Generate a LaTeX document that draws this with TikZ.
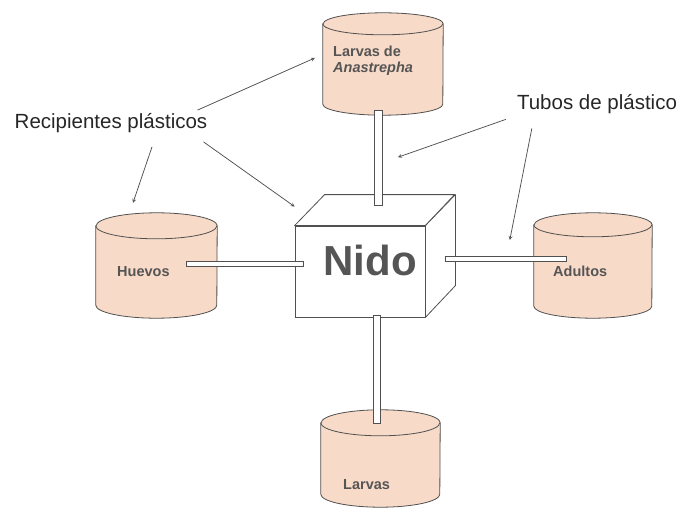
\documentclass[tikz,border=0pt]{standalone}
\usepackage{fontspec}
\setmainfont{Liberation Sans}
\usetikzlibrary{arrows}
\definecolor{cylFill}{HTML}{F8DAC8}
\definecolor{lineGray}{HTML}{505050}
\definecolor{tagGray}{HTML}{555555}

% outline of an upright container around node #1 (x radius #2, y radius #3)
\newcommand{\cylshape}[3]{%
  \filldraw [cylline] ([yshift=-#3]#1.north west) -- ([yshift=#3]#1.south west)
    arc [start angle=180, end angle=360, x radius=#2, y radius=#3]
    -- ([yshift=-#3]#1.north east)
    arc [start angle=0, end angle=180, x radius=#2, y radius=#3] -- cycle;
  \draw [cylline] ([yshift=-#3]#1.north west)
    arc [start angle=180, end angle=360, x radius=#2, y radius=#3];}

\begin{document}
\begin{tikzpicture}[
    x=1pt, y=-1pt,
    cyl/.style = {rectangle, minimum width=120pt, minimum height=102pt, inner sep=0pt},
    cylline/.style = {draw=lineGray, fill=cylFill, line width=0.8pt},
    box/.style = {rectangle, draw=lineGray, fill=white, line width=0.8pt, minimum width=130pt, minimum height=91pt, inner sep=0pt},
    face/.style = {draw=lineGray, fill=white, line width=0.8pt, line join=round},
    tube/.style = {draw=lineGray, fill=white, line width=0.7pt},
    tag/.style = {font=\bfseries\fontsize{14.5}{16}\selectfont, text=tagGray, inner sep=0pt, align=left},
    callout/.style = {font=\fontsize{20.5}{24}\selectfont, text=black!85, inner sep=0pt},
    arrow/.style = {->, >=stealth, line width=0.75pt, color=lineGray}
]
    \useasboundingbox (0,0) rectangle (684,513);

    % Containers
    \node [cyl] (anastrepha) at (383,64) {};
    \node [cyl, minimum width=121pt, minimum height=105pt] (huevos) at (156.5,265.5) {};
    \node [cyl, minimum width=118pt, minimum height=105pt] (adultos) at (593,265.5) {};
    \node [cyl, minimum width=119pt, minimum height=97pt] (larvas) at (380.5,458.5) {};
    \cylshape{anastrepha}{60pt}{11pt}
    \cylshape{huevos}{60.5pt}{13pt}
    \cylshape{adultos}{59pt}{12pt}
    \cylshape{larvas}{59.5pt}{13pt}

    % Nest box
    \node [box] (nido) at (360,271.5) {};
    \draw [face] (nido.north west) -- ++(30,-31) -- ++(130,0) -- (nido.north east) -- cycle;
    \draw [face] (nido.north east) -- ++(30,-31) -- ++(0,91) -- (nido.south east) -- cycle;
    \node [font=\bfseries\fontsize{42}{48}\selectfont, text=tagGray, anchor=base, inner sep=0pt] (nidolabel) at (370,275) {Nido};

    % Tubes
    \draw [tube] ([shift={(-9pt,5pt)}]anastrepha.south) rectangle ([shift={(22pt,20pt)}]nido.north);
    \draw [tube] ([shift={(-31pt,4.5pt)}]huevos.east) rectangle ([shift={(9pt,5.5pt)}]nido.west);
    \draw [tube] ([shift={(20pt,15.5pt)}]nido.east) rectangle ([shift={(33pt,4.5pt)}]adultos.west);
    \draw [tube] ([shift={(13pt,2pt)}]nido.south) rectangle ([shift={(-0.5pt,-14pt)}]larvas.north);

    % Container labels
    \node [tag, anchor=north west] (lblanastrepha) at (333,46) {Larvas de\\ \textit{Anastrepha}};
    \node [tag, anchor=base west] (lblhuevos) at (117,276) {Huevos};
    \node [tag, anchor=base west] (lbladultos) at (553,276) {Adultos};
    \node [tag, anchor=base west] (lbllarvas) at (343,489) {Larvas};

    % Callouts
    \node [callout] (recip) at (111,123) {Recipientes plásticos};
    \node [callout] (tubos) at (597,104.5) {Tubos de plástico};

    \draw [arrow] ([shift={(-10pt,3pt)}]recip.north east) -- ([shift={(-8pt,6pt)}]anastrepha.west);
    \draw [arrow] ([shift={(41pt,-14pt)}]recip.south) -- ([shift={(-23.5pt,10pt)}]huevos.north);
    \draw [arrow] ([shift={(-4pt,-9pt)}]recip.south east) -- ([yshift=19pt]nido.north west);
    \draw [arrow] ([shift={(-11pt,-5pt)}]tubos.south west) -- ([shift={(15pt,-42pt)}]anastrepha.south);
    \draw [arrow] ([shift={(15pt,-14pt)}]tubos.south west) -- ([shift={(-24pt,25.5pt)}]adultos.west);
\end{tikzpicture}
\end{document}
